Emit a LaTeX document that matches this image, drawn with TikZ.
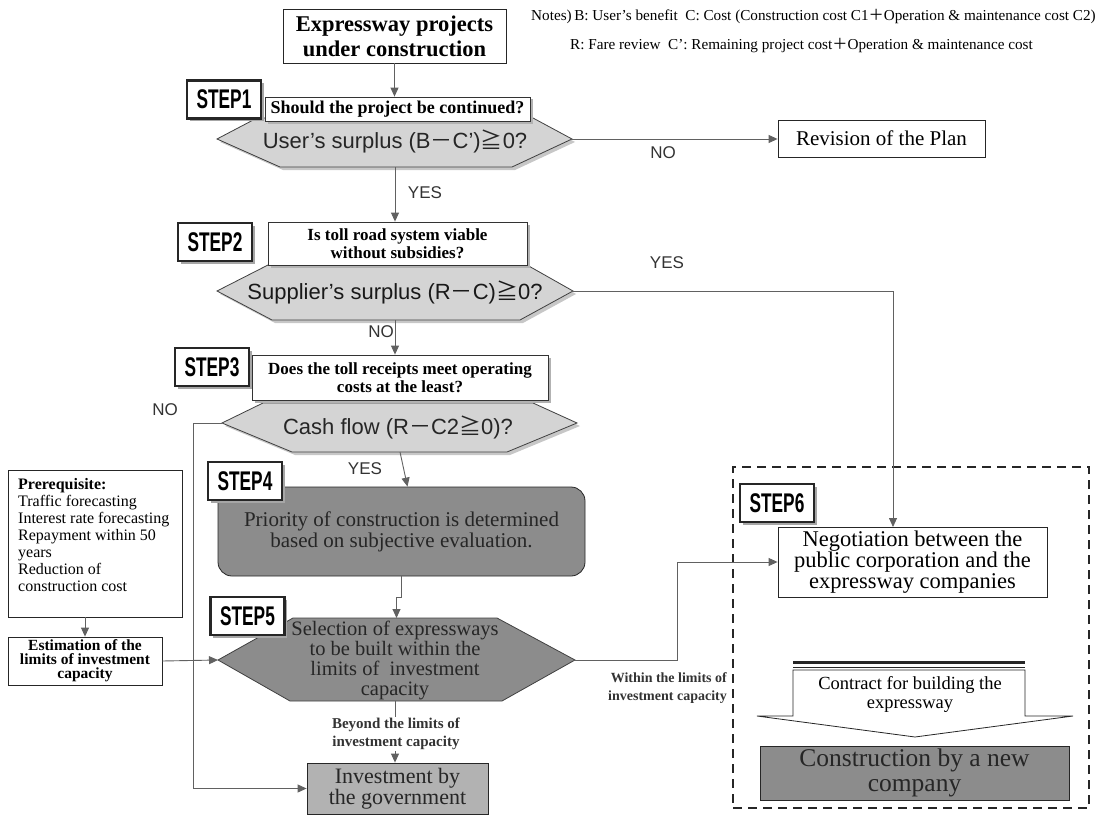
\documentclass[tikz,border=0pt]{standalone}
\usepackage{fontspec}
\setmainfont{Liberation Serif}
\setsansfont{Liberation Sans}
\newfontfamily\cjk{Noto Sans CJK JP}
\usetikzlibrary{arrows.meta,shadows}
\newcommand{\zgeq}{{\cjk ≧}}
\newcommand{\zminus}{{\cjk －}}
\newcommand{\zplus}{{\cjk ＋}}
\newcommand{\fs}[2]{\fontsize{#1}{#2}\selectfont}
\newcommand{\steplbl}[1]{\scalebox{0.64}[1]{\sffamily\bfseries\fs{27}{27}#1}}
\begin{document}
\begin{tikzpicture}[x=1pt,y=-1pt,
  conn/.style={draw=black!62, line width=0.9pt, -{Triangle[length=9pt,width=8pt]}},
  steplabel/.style={draw=black!85, line width=2.4pt, fill=white, minimum width=74pt, minimum height=38pt, inner sep=0pt, drop shadow={shadow xshift=2.5pt,shadow yshift=-2.5pt,fill=black!35,opacity=1}},
  qbox/.style={draw=black!80, line width=0.8pt, fill=white, align=center, inner sep=1pt, font=\bfseries\fs{17}{18}, drop shadow={shadow xshift=2.5pt,shadow yshift=-2.5pt,fill=black!30,opacity=1}},
  hexlight/.style={draw=black!75, line width=0.8pt, fill=black!17},
  hexdark/.style={draw=black!75, line width=0.8pt, fill=black!45},
  hexshadow/.style={fill=black!22},
  hextext/.style={font=\sffamily\fs{22}{22}, text=black!85},
  sanslbl/.style={font=\sffamily\fs{17}{17}, text=black!80},
  plainbox/.style={draw=black!85, line width=0.8pt, align=center, inner sep=1pt},
  smalllbl/.style={font=\bfseries\fs{15}{18}, align=center, text=black!80},
]
\useasboundingbox (0,0) rectangle (1101,816);

% ---------- top
\node[plainbox, font=\bfseries\fs{22.5}{25}, minimum width=223pt, minimum height=54pt] (start) at (394.5,36) {Expressway projects\\under construction};
\node[anchor=west, inner sep=0pt, font=\fs{15.2}{15}] (note1) at (531,17) {Notes)\,B: User’s benefit\ \ C: Cost (Construction cost C1\zplus Operation \& maintenance cost C2)};
\node[anchor=west, inner sep=0pt, font=\fs{15.2}{15}] (note2) at (570,46) {R: Fare review\ \ C’: Remaining project cost\zplus Operation \& maintenance cost};

% ---------- STEP1
\fill[hexshadow] (220,142) -- (260,121) -- (536,121) -- (575,142) -- (515,170) -- (283,170) -- cycle;
\draw[hexlight] (217,139) -- (257,118) -- (533,118) -- (572,139) -- (512,167) -- (280,167) -- cycle;
\coordinate (h1R) at (572,139);
\coordinate (h1B) at (395,167);
\node[hextext] (h1t) at (395,141) {User’s surplus (B\zminus C’)\zgeq 0?};
\node[qbox, font=\bfseries\fs{18}{18}, minimum width=265pt, minimum height=24pt] (q1) at (397.5,109) {Should the project be continued?};
\node[steplabel] (s1) at (224,99.5) {\steplbl{STEP1}};
\node[plainbox, font=\fs{21}{22}, minimum width=207pt, minimum height=37pt] (rev) at (881.5,138.5) {Revision of the Plan};
\node[sanslbl] (no1) at (663,153) {NO};
\node[sanslbl] (yes1) at (425,193) {YES};

% ---------- STEP2
\fill[hexshadow] (220,294) -- (271,268) -- (530,268) -- (576,294) -- (523,323) -- (275,323) -- cycle;
\draw[hexlight] (217,291) -- (268,265) -- (527,265) -- (573,291) -- (520,320) -- (272,320) -- cycle;
\coordinate (h2R) at (573,291);
\coordinate (h2B) at (395,320);
\node[hextext, text=black!90] (h2t) at (395,292) {Supplier’s surplus (R\zminus C)\zgeq 0?};
\node[qbox, minimum width=259pt, minimum height=43pt] (q2) at (397.5,243.5) {Is toll road system viable\\without subsidies?};
\node[steplabel] (s2) at (215,242) {\steplbl{STEP2}};
\node[sanslbl] (yes2) at (667,263) {YES};
\node[sanslbl] (no2) at (381,332) {NO};

% ---------- STEP3
\fill[hexshadow] (225,426) -- (266,406) -- (536,406) -- (580,426) -- (510,455) -- (295,455) -- cycle;
\draw[hexlight] (222,423) -- (263,403) -- (533,403) -- (577,423) -- (507,452) -- (292,452) -- cycle;
\coordinate (h3L) at (222,423);
\coordinate (h3B) at (400,452);
\node[hextext] (h3t) at (398,427) {Cash flow (R\zminus C2\zgeq 0)?};
\node[qbox, minimum width=296pt, minimum height=45pt] (q3) at (400,377.5) {Does the toll receipts meet operating\\costs at the least?};
\node[steplabel] (s3) at (212,367) {\steplbl{STEP3}};
\node[sanslbl] (no3) at (165,410) {NO};
\node[sanslbl] (yes3) at (365,469) {YES};

% ---------- STEP4
\node[plainbox, rounded corners=14pt, fill=black!45, text=black!85, font=\fs{21}{21}, minimum width=367pt, minimum height=89pt] (pri) at (401.5,531.5) {Priority of construction is determined\\based on subjective evaluation.};
\node[steplabel] (s4) at (245,481) {\steplbl{STEP4}};

% ---------- STEP5
\draw[hexdark] (218,660) -- (293,618) -- (497,618) -- (575,660) -- (502,701) -- (290,701) -- cycle;
\coordinate (h5L) at (218,660);
\coordinate (h5R) at (575,660);
\coordinate (h5B) at (395,701);
\coordinate (h5T) at (396.5,618);
\node[font=\fs{20.5}{20}, align=center, text=black!85] (h5t) at (395,660) {Selection of expressways\\to be built within the\\limits of\ \ investment\\capacity};
\node[steplabel] (s5) at (247.5,616) {\steplbl{STEP5}};

% ---------- left column
\node[plainbox, minimum width=174pt, minimum height=147pt] (pre) at (95,543.5) {};
\node[anchor=north west, align=left, inner sep=0pt, font=\fs{16}{17}] (pretext) at (18,478) {\textbf{Prerequisite:}\\Traffic forecasting\\Interest rate forecasting\\Repayment within 50\\years\\Reduction of\\construction cost};
\node[plainbox, font=\bfseries\fs{15.5}{13.8}, minimum width=154pt, minimum height=48pt] (est) at (85,661) {Estimation of the\\limits of investment\\capacity};

% ---------- bottom
\node[plainbox, fill=black!30, text=black!85, font=\fs{22}{20}, minimum width=181pt, minimum height=51pt] (inv) at (397.5,788.5) {Investment by\\the government};

% ---------- STEP6
\node[draw=black!85, line width=1.6pt, dash pattern=on 9pt off 6pt, minimum width=356pt, minimum height=341pt, inner sep=0pt] (frame) at (911,637.5) {};
\node[steplabel] (s6) at (777,503) {\steplbl{STEP6}};
\node[plainbox, fill=white, font=\fs{22.5}{19}, minimum width=269pt, minimum height=70pt] (neg) at (912.5,562) {Negotiation between the\\public corporation and the\\expressway companies};
\coordinate (nt) at (893,527);
\draw[draw=black!85, line width=0.8pt, fill=white] (793,670) -- (793,716) -- (757,716) -- (915,737) -- (1073,716) -- (1025,716) -- (1025,670) -- cycle;
\draw[line width=2.5pt, black!85] (793,662.5) -- (1025,662.5);
\draw[line width=0.8pt, black!85] (793,667) -- (1025,667);
\node[font=\fs{18.5}{19}, align=center] (contract) at (910,694) {Contract for building the\\expressway};
\node[plainbox, fill=black!45, text=black!85, font=\fs{25.5}{25}, minimum width=309pt, minimum height=54pt] (cons) at (914.5,773) {Construction by a new\\company};

% ---------- connectors
\draw[conn] (start.south) -- (start.south |- q1.north);
\draw[conn] (h1R) -- (h1R -| rev.west);
\draw[conn] (h1B) -- (h1B |- q2.north);
\draw[conn] (h2R) -| (nt);
\draw[conn] (h2B) -- (h2B |- q3.north);
\coordinate (nc) at (193,423);
\draw[conn] (h3L) -- (nc) |- (inv.west);
\draw[conn] (h3B) -- ([xshift=6pt]pri.north);
\draw[conn] (pri.south) -- ++(0,21) -| (h5T);
\draw[conn] (est.north |- pre.south) -- (est.north);
\draw[conn] (est.east) -- (h5L);
\draw[conn] (h5B) -- (h5B |- inv.north);
\node[smalllbl, fill=white, inner sep=1pt] (beyond) at (396,734) {Beyond the limits of\\investment capacity};
\coordinate (wc) at (677,660);
\draw[conn] (h5R) -- (wc) |- (neg.west);
\node[smalllbl, font=\bfseries\fs{14}{18}, align=right, anchor=east, inner sep=0pt] (within) at (727,688) {Within the limits of\\investment capacity};
\end{tikzpicture}
\end{document}
